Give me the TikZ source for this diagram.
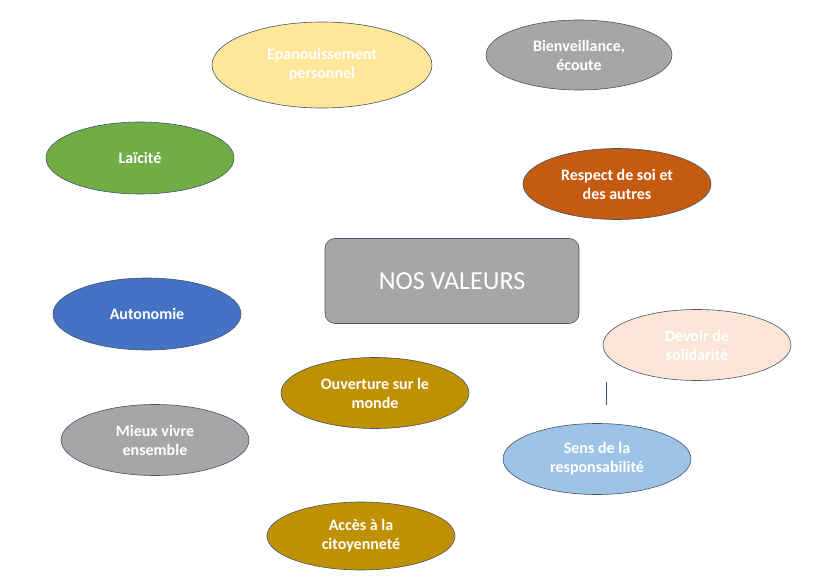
\documentclass[tikz,border=0pt]{standalone}
\usepackage{fontspec}
\setmainfont{Carlito}
\usepackage{tikz}
\usetikzlibrary{shapes.geometric, positioning}

\definecolor{jaunepale}{HTML}{FFE699}
\definecolor{grisval}{HTML}{A6A6A6}
\definecolor{vertval}{HTML}{70AD47}
\definecolor{orangeval}{HTML}{C55A11}
\definecolor{bleuval}{HTML}{4472C4}
\definecolor{peche}{HTML}{FBE5D6}
\definecolor{orval}{HTML}{BF9000}
\definecolor{bleuclair}{HTML}{9DC3E6}
\definecolor{contour}{HTML}{44546A}
\definecolor{traitbleu}{HTML}{2F5597}

\begin{document}
\begin{tikzpicture}[
    x=1pt, y=-1pt,
    % style des bulles de valeurs
    valeur/.style={ellipse, draw=contour, line width=0.6pt, inner sep=0pt,
        minimum width=188pt, minimum height=71pt, text=white, align=center,
        font=\fontsize{16}{19}\selectfont\bfseries},
    titre/.style={rectangle, rounded corners=10pt, draw=contour, line width=0.6pt,
        fill=grisval, minimum width=254pt, minimum height=85pt, text=white,
        font=\fontsize{26}{30}\selectfont}
]
    \useasboundingbox (0,0) rectangle (815,586);

    % --- bulle centrale ---
    \node[titre] (centre) at (452,281) {NOS VALEURS};

    % --- valeurs en haut ---
    \node[valeur, fill=jaunepale, minimum width=220pt, minimum height=86pt] (epanouissement) at (322,65) {Epanouissement\\personnel};
    \node[valeur, fill=grisval, minimum width=186pt, minimum height=70pt] (bienveillance) at (579,55) {Bienveillance,\\écoute};
    \node[valeur, fill=vertval, minimum height=72pt] (laicite) at (140,158) {Laïcité};
    \node[valeur, fill=orangeval] (respect) at (617,184) {Respect de soi et\\des autres};

    % --- valeurs au milieu ---
    \node[valeur, fill=bleuval, minimum height=72pt] (autonomie) at (147,314) {Autonomie};
    \node[valeur, fill=peche] (solidarite) at (697,345) {Devoir de\\solidarité};
    \node[valeur, fill=orval] (ouverture) at (375,393) {Ouverture sur le\\monde};

    % --- valeurs en bas ---
    \node[valeur, fill=grisval] (mieuxvivre) at (155,440) {Mieux vivre\\ensemble};
    \node[valeur, fill=bleuclair] (responsabilite) at (597,459) {Sens de la\\responsabilité};
    \node[valeur, fill=orval, minimum height=68pt] (citoyennete) at (361,536) {Accès à la\\citoyenneté};

    % petit trait isolé
    \coordinate (traitA) at (606,382);
    \coordinate (traitB) at (606,405);
    \draw[traitbleu, line width=0.8pt] (traitA) -- (traitB);

\end{tikzpicture}
\end{document}
